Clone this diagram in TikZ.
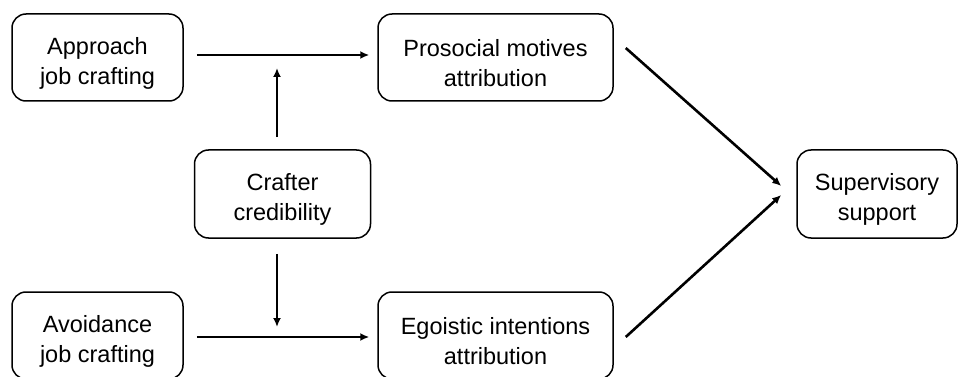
\documentclass[tikz,border=0pt]{standalone}
\usepackage{fontspec}
\setmainfont{Liberation Sans}
\usetikzlibrary{arrows.meta}
\tikzset{
    block/.style={rectangle, draw, rounded corners = 14pt, line width = 1.5pt,
                minimum height = 87pt, inner sep = 0, align = center,
                font=\fontsize{23.5}{30}\selectfont, text height = 58pt},
    link/.style={line width = 2.6pt, -{Latex[length=9pt, width=8pt]}},
}

\begin{document}
\begin{tikzpicture}[x=1pt, y=-1pt]
        \useasboundingbox (0,0) rectangle (959,377);
        % Left column
        \node[block, minimum width = 171pt] (app) at (97.5,57.5) {Approach\\job crafting};
        \node[block, minimum width = 171pt] (avo) at (97.5,335.5) {Avoidance\\job crafting};
        \node[block, minimum width = 176pt, minimum height = 88pt] (cred) at (282.5,194) {Crafter\\credibility};
        %
        % Middle column
        \node[block, minimum width = 235pt] (pro) at (495.5,57.5) {Prosocial motives\\attribution};
        \node[block, minimum width = 235pt] (ego) at (495.5,335.5) {Egoistic intentions\\attribution};
        %
        % Right column
        \node[block, minimum width = 160pt, minimum height = 88pt] (sup) at (877,194) {Supervisory\\support};
        %
        % Moderation points
        \coordinate (modtop) at (277,68);
        \coordinate (modbot) at (277,327);
        %
        \draw[link, shorten <=13pt, shorten >=8pt] ([yshift=2.5pt]app.east) -- ([yshift=2.5pt]pro.west);
        \draw[link, shorten <=13pt, shorten >=8pt] ([yshift=-1.5pt]avo.east) -- ([yshift=-1.5pt]ego.west);
        \draw[link] (cred.north -| modtop) ++(0,-12) -- (modtop);
        \draw[link] (cred.south -| modbot) ++(0,15) -- (modbot);
        \draw[link] ([shift={(12,-9.5)}]pro.east) -- ([shift={(-15,-8)}]sup.west);
        \draw[link] ([shift={(12,1.5)}]ego.east) -- ([shift={(-15,1)}]sup.west);
\end{tikzpicture}
\end{document}
